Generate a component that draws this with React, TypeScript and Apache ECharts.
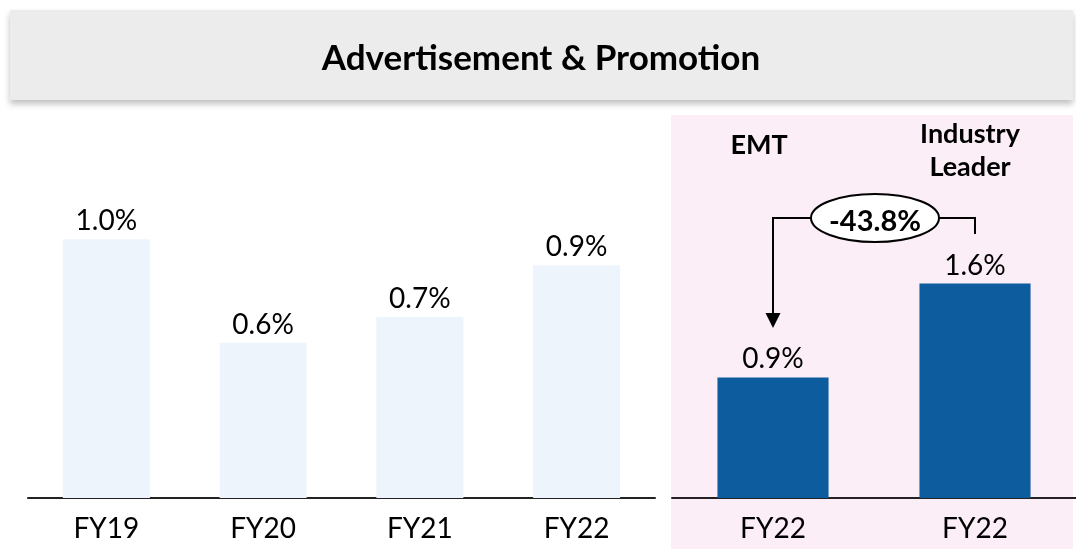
import React, { useEffect, useRef } from "react";
import * as echarts from "echarts";

const leftCategories = ["FY19", "FY20", "FY21", "FY22"];
const leftValues = [1.0, 0.6, 0.7, 0.9];
const rightCategories = ["FY22", "FY22"];
const rightValues = [0.9, 1.6];
const rightHeaders = ["EMT", "Industry\nLeader"];
const changeLabel = "-43.8%";
const titleText = "Advertisement & Promotion";

const FONT = "Lato, 'Open Sans', sans-serif";

export default function App() {
  const ref = useRef<HTMLDivElement>(null);
  useEffect(() => {
    if (!ref.current) return;
    const chart = echarts.init(ref.current, undefined, { renderer: "svg" });
    const labelStyle = {
      show: true,
      position: "top",
      distance: 6,
      fontFamily: FONT,
      fontSize: 28,
      color: "#000",
      formatter: (p: any) => p.value.toFixed(1) + "%",
    };
    const axisLabel = { fontFamily: FONT, fontSize: 28, color: "#000", margin: 15 };
    chart.setOption({
      animation: false,
      graphic: [
        {
          type: "rect",
          z: 0,
          shape: { x: 671, y: 115, width: 402, height: 434 },
          style: { fill: "#FBEEF7" },
        },
        {
          type: "rect",
          z: 0,
          shape: { x: 10, y: 10, width: 1063, height: 90 },
          style: {
            fill: "#ECECEC",
            shadowBlur: 6,
            shadowOffsetY: 4,
            shadowColor: "rgba(0,0,0,0.25)",
          },
        },
        {
          type: "text",
          z: 10,
          x: 541,
          y: 56,
          style: {
            text: titleText,
            fontFamily: FONT,
            fontWeight: "bold",
            fontSize: 35,
            fill: "#000",
            align: "center",
            verticalAlign: "middle",
          },
        },
        {
          type: "text",
          z: 10,
          x: 759,
          y: 143,
          style: {
            text: rightHeaders[0],
            fontFamily: FONT,
            fontWeight: "bold",
            fontSize: 27,
            fill: "#000",
            align: "center",
            verticalAlign: "middle",
          },
        },
        {
          type: "text",
          z: 10,
          x: 970,
          y: 149,
          style: {
            text: rightHeaders[1],
            fontFamily: FONT,
            fontWeight: "bold",
            fontSize: 27,
            lineHeight: 33,
            fill: "#000",
            align: "center",
            verticalAlign: "middle",
          },
        },
        {
          type: "polyline",
          z: 10,
          shape: { points: [[812, 218], [773, 218], [773, 314]] },
          style: { stroke: "#000", lineWidth: 2, fill: null },
        },
        {
          type: "polygon",
          z: 10,
          shape: { points: [[765.5, 313], [780.5, 313], [773, 328]] },
          style: { fill: "#000" },
        },
        {
          type: "polyline",
          z: 10,
          shape: { points: [[938, 218], [975, 218], [975, 234]] },
          style: { stroke: "#000", lineWidth: 2, fill: null },
        },
        {
          type: "ellipse",
          z: 11,
          shape: { cx: 875, cy: 218, rx: 64, ry: 24 },
          style: { fill: "#fff", stroke: "#000", lineWidth: 2 },
        },
        {
          type: "text",
          z: 12,
          x: 875,
          y: 219,
          style: {
            text: changeLabel,
            fontFamily: FONT,
            fontWeight: "bold",
            fontSize: 29,
            fill: "#000",
            align: "center",
            verticalAlign: "middle",
          },
        },
      ],
      grid: [
        { left: 28, width: 627, top: 110, height: 388 },
        { left: 672, width: 404, top: 230, height: 268 },
      ],
      xAxis: [
        {
          type: "category",
          gridIndex: 0,
          data: leftCategories,
          axisLine: { lineStyle: { color: "#222", width: 2 } },
          axisTick: { show: false },
          axisLabel,
        },
        {
          type: "category",
          gridIndex: 1,
          data: rightCategories,
          axisLine: { lineStyle: { color: "#222", width: 2 } },
          axisTick: { show: false },
          axisLabel,
        },
      ],
      yAxis: [
        { type: "value", gridIndex: 0, min: 0, max: 1.5, show: false, splitLine: { show: false } },
        { type: "value", gridIndex: 1, min: 0, max: 2.0, show: false, splitLine: { show: false } },
      ],
      series: [
        {
          type: "bar",
          xAxisIndex: 0,
          yAxisIndex: 0,
          data: leftValues,
          barWidth: "55.5%",
          itemStyle: { color: "#EDF4FC" },
          label: labelStyle,
        },
        {
          type: "bar",
          xAxisIndex: 1,
          yAxisIndex: 1,
          data: rightValues,
          barWidth: "55%",
          itemStyle: { color: "#0D5C9E" },
          label: labelStyle,
        },
      ],
    });
    return () => chart.dispose();
  }, []);
  return (
    <div
      ref={ref}
      style={{ position: "fixed", left: 0, top: 0, width: 1076, height: 549 }}
    />
  );
}
